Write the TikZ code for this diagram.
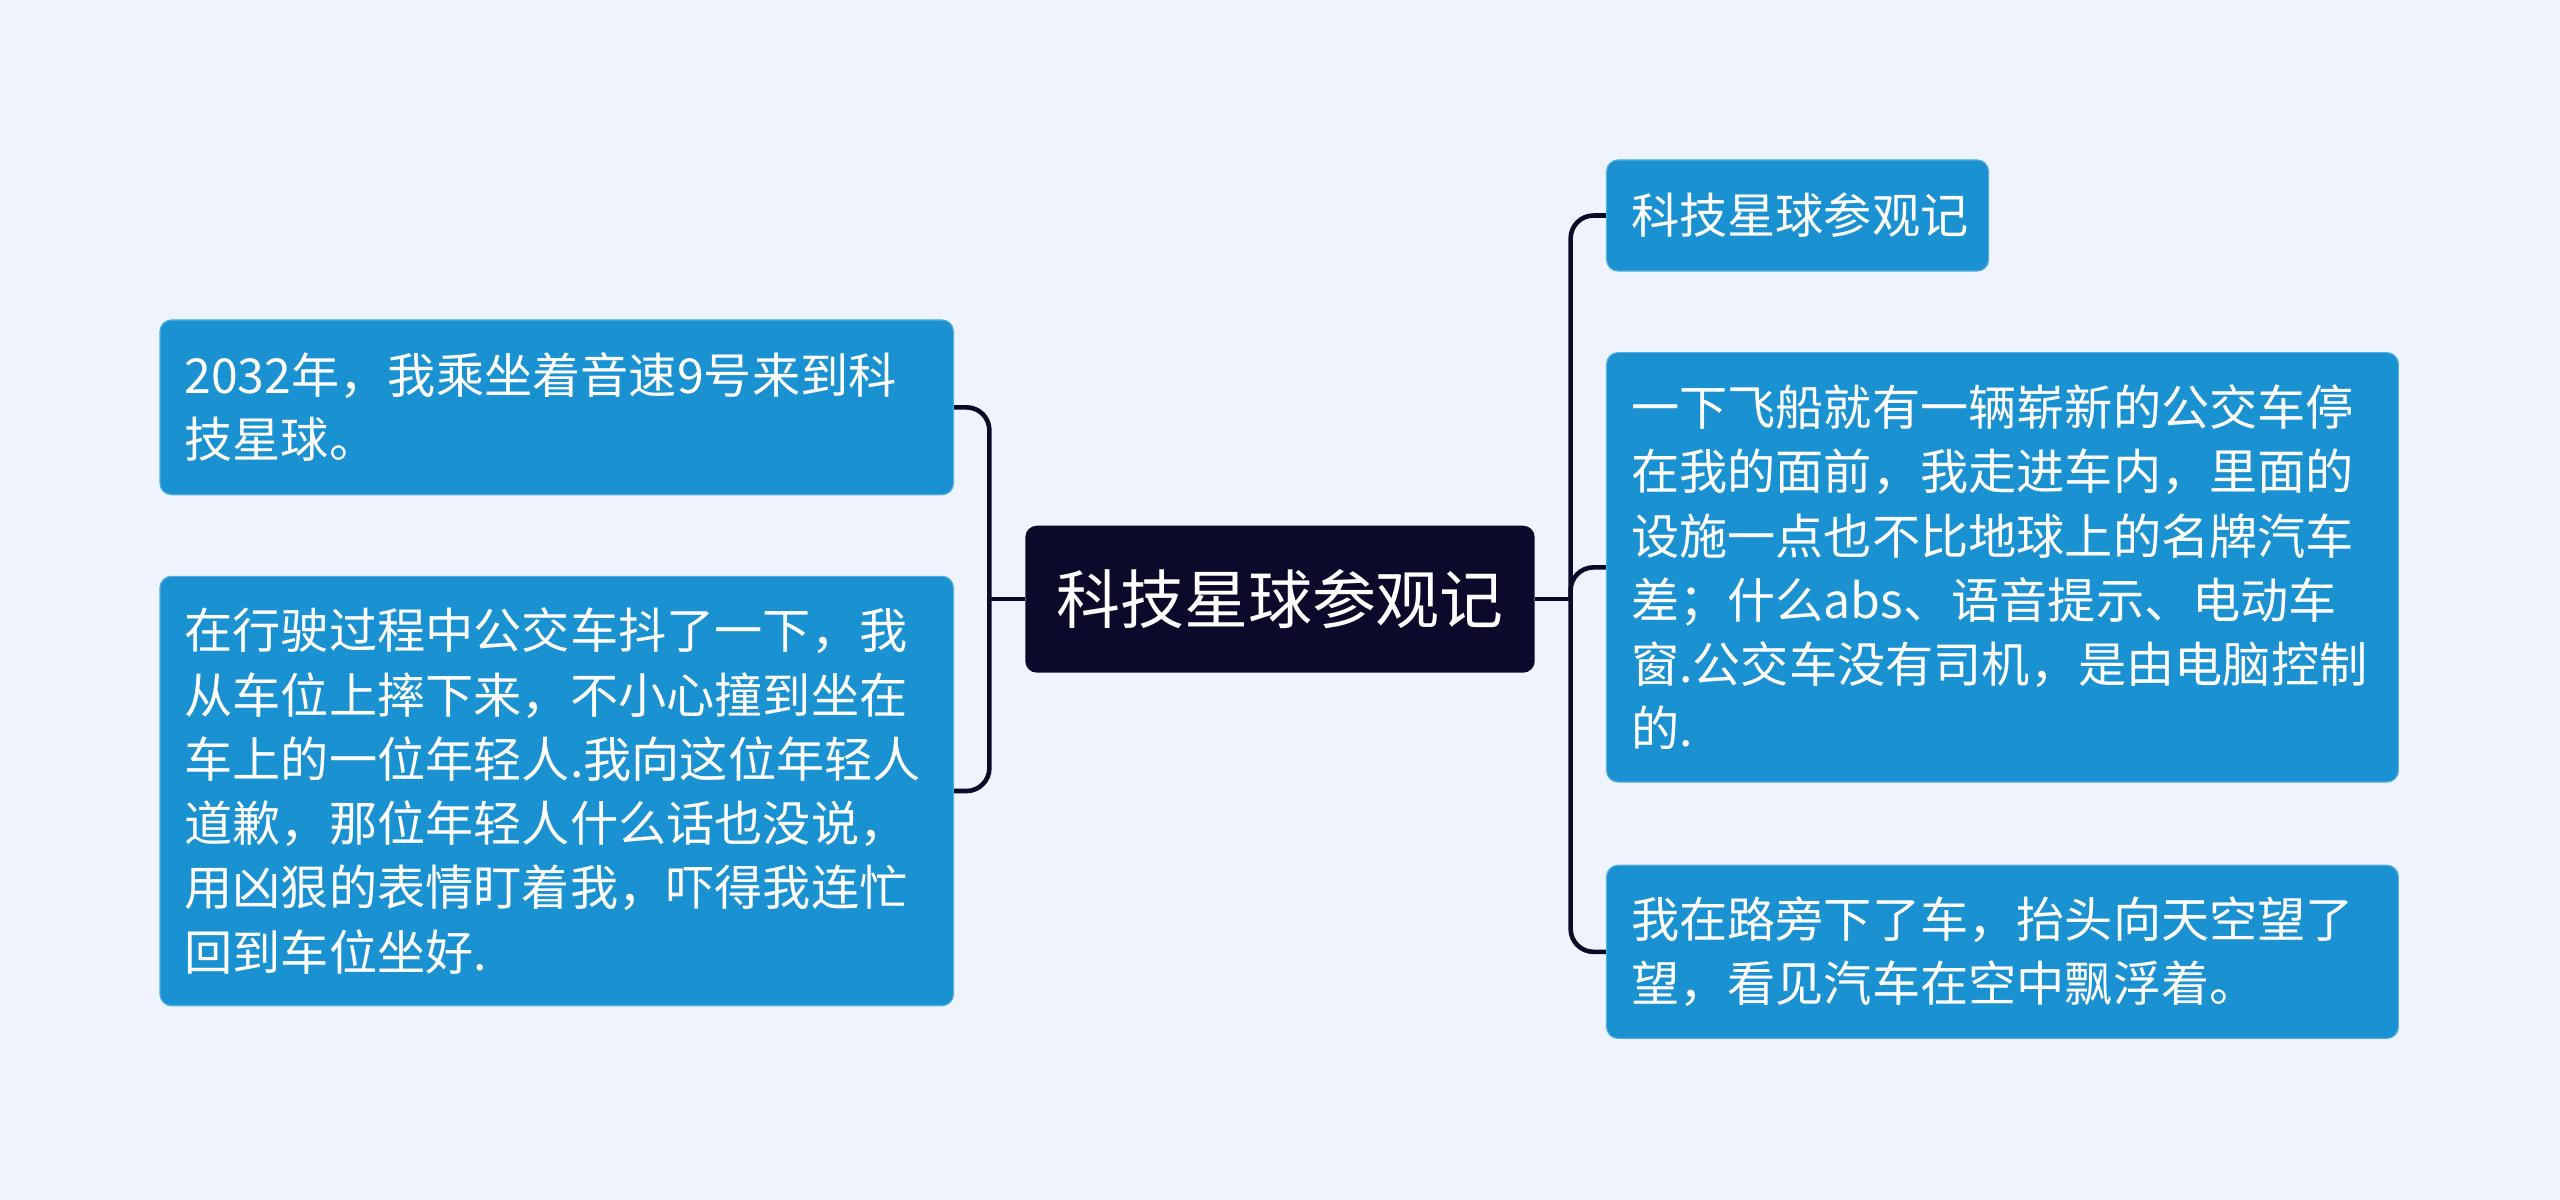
\documentclass[tikz,border=0pt]{standalone}
\usepackage{fontspec}
\setmainfont{Noto Sans CJK SC}
\definecolor{mind_bg}{HTML}{EEF3FD}
\definecolor{mind_root}{HTML}{0B0A2B}
\definecolor{mind_leaf}{HTML}{1A91D1}
\definecolor{mind_edge}{HTML}{52AEE0}
\usetikzlibrary{positioning}
\begin{document}
\begin{tikzpicture}[
      leaf/.style={draw=mind_edge, fill=mind_leaf, text=white, rounded corners=4pt,
                   align=left, inner xsep=0.3cm, font=\fontsize{16.8pt}{22.4pt}\selectfont},
      conn/.style={draw=mind_root, line width=1.6pt, rounded corners=8pt}]
      % canvas
      \fill[mind_bg] (0,0) rectangle (31.36,-14.7);
      \useasboundingbox (0,0) rectangle (31.36,-14.7);
      % root
      \node[fill=mind_root, text=white, rounded corners=4pt, minimum width=6.24cm,
            minimum height=1.8cm, font=\fontsize{22.3pt}{26pt}\selectfont] (root)
        at (15.68,-7.34) {科技星球参观记};
      % left side
      \node[leaf, text width=9.12cm, minimum height=2.14cm] (l1) at (6.82,-4.99)
        {2032年，我乘坐着音速9号来到科\\技星球。};
      \node[leaf, text width=9.12cm, minimum height=5.26cm] (l2) at (6.82,-9.69)
        {在行驶过程中公交车抖了一下，我\\从车位上摔下来，不小心撞到坐在\\车上的一位年轻人.我向这位年轻人\\道歉，那位年轻人什么话也没说，\\用凶狠的表情盯着我，吓得我连忙\\回到车位坐好.};
      % right side
      \node[leaf, text width=4.08cm, minimum height=1.36cm] (r1) at (22.02,-2.64)
        {科技星球参观记};
      \node[leaf, text width=9.1cm, minimum height=5.26cm] (r2) at (24.53,-6.95)
        {一下飞船就有一辆崭新的公交车停\\在我的面前，我走进车内，里面的\\设施一点也不比地球上的名牌汽车\\差；什么abs、语音提示、电动车\\窗.公交车没有司机，是由电脑控制\\的.};
      \node[leaf, text width=9.1cm, minimum height=2.12cm] (r3) at (24.53,-11.66)
        {我在路旁下了车，抬头向天空望了\\望，看见汽车在空中飘浮着。};
      % connectors
      \coordinate (lj) at (12.12,-7.34);
      \coordinate (rj) at (19.24,-7.34);
      \draw[conn] (root.west) -- (lj);
      \draw[conn] (l1.east) -| (lj) |- (l2.east);
      \draw[conn] (root.east) -- (rj);
      \draw[conn] (r1.west) -| (rj) |- (r3.west);
      \draw[conn] (rj) |- (r2.west);
    \end{tikzpicture}
\end{document}
